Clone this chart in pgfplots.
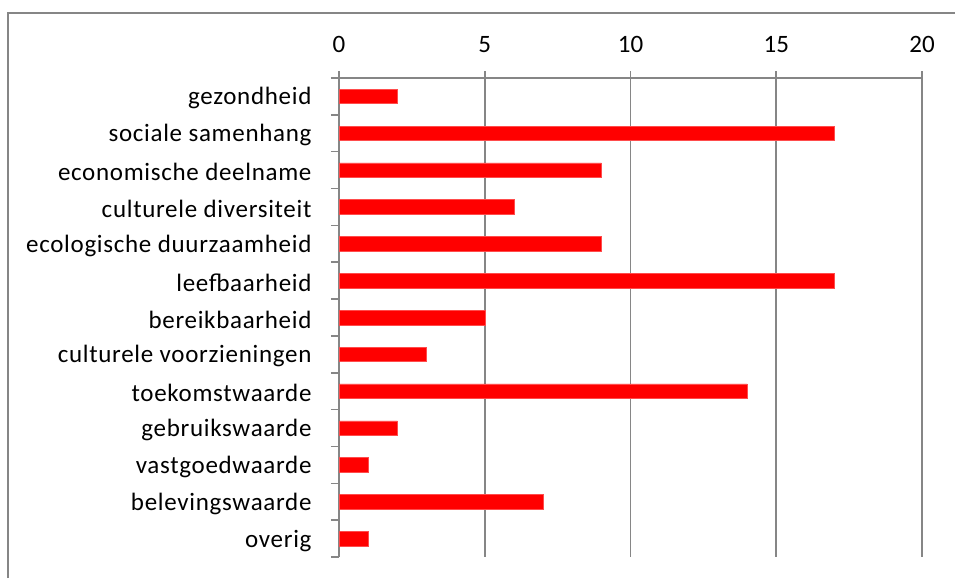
\documentclass[border=0pt]{standalone}
\usepackage{fontspec}
\setmainfont{Carlito}
\usepackage{pgfplots}
\pgfplotsset{compat=1.18}
\definecolor{axgray}{RGB}{134,134,134}
\definecolor{barred}{RGB}{255,0,0}
\begin{document}
\fontsize{25}{30}\selectfont
\begin{tikzpicture}[x=1pt,y=1pt]
\useasboundingbox (0,0) rectangle (955,578);
\draw[axgray,line width=1.8pt] (8.3,0) -- (8.3,565.3) -- (955,565.3);
\begin{axis}[
  at={(339pt,21pt)}, anchor=south west,
  scale only axis, width=583pt, height=479pt,
  xbar, bar width=14.5pt,
  xmin=0, xmax=20,
  ymin=-0.5, ymax=12.5, y dir=reverse,
  axis x line=top, axis y line=left,
  x axis line style={-, axgray, line width=1.6pt},
  y axis line style={-, axgray, line width=1.6pt},
  xtick={0,5,10,15,20},
  ytick={0,...,12},
  minor ytick={-0.5,0.5,...,12.5},
  yticklabels={gezondheid,sociale samenhang\hspace{6pt},economische deelname,culturele diversiteit,ecologische duurzaamheid\hspace{4pt},leefbaarheid,bereikbaarheid,culturele voorzieningen,toekomstwaarde\hspace{6pt},gebruikswaarde,vastgoedwaarde,belevingswaarde\hspace{4pt},overig},
  tick align=outside,
  major tick length=7pt, minor tick length=8pt,
  ytick style={axgray, line width=1.6pt},
  every major y tick/.append style={draw=none},
  xtick style={draw=axgray, line width=1.6pt},
  xmajorgrids, major grid style={axgray, line width=1.6pt},
  /pgf/number format/assume math mode=true,
  xticklabel style={font=\fontsize{25}{30}\selectfont, text=black, yshift=10pt},
  yticklabel style={font=\fontsize{25}{30}\selectfont\addfontfeature{LetterSpace=2.8}, text=black, xshift=-12pt, yshift=-2pt},
  clip=false,
]
\addplot[fill=barred, draw=barred!70, line width=0.5pt] coordinates {
 (2,0) (17,1) (9,2) (6,3) (9,4) (17,5) (5,6) (3,7) (14,8) (2,9) (1,10) (7,11) (1,12)
};
\end{axis}
\end{tikzpicture}
\end{document}
